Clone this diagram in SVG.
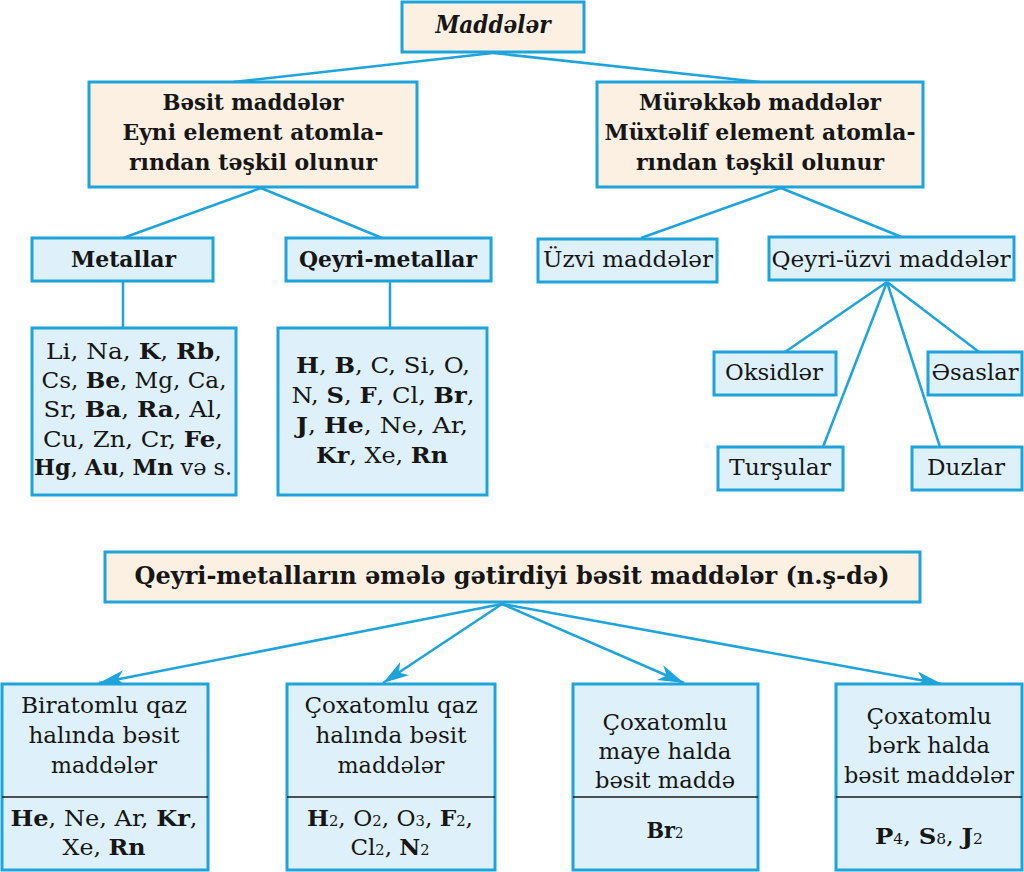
<svg xmlns="http://www.w3.org/2000/svg" width="1024" height="872" viewBox="0 0 1024 872">
<style>
.bx{fill:#def1fb;stroke:#1ea4db;stroke-width:3}
.bg{fill:#fcf0e2;stroke:#1ea4db;stroke-width:3}
.ln{fill:none;stroke:#1ea4db;stroke-width:2.5}
.dv{stroke:#1a1a1a;stroke-width:1.5}
text{font-family:"DejaVu Serif","Liberation Serif",serif;fill:#161616;text-anchor:middle}
.t{font-size:23px;font-weight:bold}
.r{font-size:23px}
.e{font-size:22px}
.b{font-weight:bold}
.s{font-size:14px}
</style>
<defs>
<marker id="ah" markerUnits="userSpaceOnUse" markerWidth="28" markerHeight="18" refX="26" refY="8" orient="auto" viewBox="0 0 28 18">
<path d="M0,0 L26,8 L0,16 L7,8 z" fill="#1ea4db"/>
</marker>
</defs>
<rect width="1024" height="872" fill="#ffffff"/>
<g id="connectors">
<line class="ln" x1="493" y1="53" x2="233" y2="82"/>
<line class="ln" x1="493" y1="53" x2="760" y2="82"/>
<line class="ln" x1="261" y1="188" x2="123" y2="238"/>
<line class="ln" x1="261" y1="188" x2="382" y2="238"/>
<line class="ln" x1="781" y1="188" x2="641" y2="238"/>
<line class="ln" x1="781" y1="188" x2="904" y2="238"/>
<line class="ln" x1="123" y1="282" x2="123" y2="328"/>
<line class="ln" x1="390" y1="282" x2="390" y2="328"/>
<line class="ln" x1="887" y1="282" x2="785" y2="352"/>
<line class="ln" x1="887" y1="282" x2="823" y2="447"/>
<line class="ln" x1="887" y1="282" x2="940" y2="447"/>
<line class="ln" x1="887" y1="282" x2="979" y2="352"/>
<line class="ln" x1="502" y1="604" x2="99" y2="683" marker-end="url(#ah)"/>
<line class="ln" x1="502" y1="604" x2="383" y2="683" marker-end="url(#ah)"/>
<line class="ln" x1="502" y1="604" x2="684" y2="683" marker-end="url(#ah)"/>
<line class="ln" x1="502" y1="604" x2="942" y2="684" marker-end="url(#ah)"/>
</g>
<g id="maddeler">
<rect class="bg" x="402" y="2" width="182" height="50"/>
<text x="493" y="33" style="font-size:24px;font-weight:bold;font-style:italic" textLength="115" lengthAdjust="spacingAndGlyphs">Maddələr</text>
</g>
<g id="besit">
<rect class="bg" x="89" y="82" width="328" height="105"/>
<text class="t" x="253" y="110" textLength="181" lengthAdjust="spacingAndGlyphs">Bəsit maddələr</text>
<text class="t" x="253" y="140" textLength="261" lengthAdjust="spacingAndGlyphs">Eyni element atomla-</text>
<text class="t" x="253" y="170" textLength="248" lengthAdjust="spacingAndGlyphs">rından təşkil olunur</text>
</g>
<g id="murekkeb">
<rect class="bg" x="597" y="82" width="326" height="105"/>
<text class="t" x="760" y="110" textLength="242" lengthAdjust="spacingAndGlyphs">Mürəkkəb maddələr</text>
<text class="t" x="760" y="140" textLength="311" lengthAdjust="spacingAndGlyphs">Müxtəlif element atomla-</text>
<text class="t" x="760" y="170" textLength="248" lengthAdjust="spacingAndGlyphs">rından təşkil olunur</text>
</g>
<g id="metallar">
<rect class="bx" x="32" y="238" width="181" height="43"/>
<text class="t" x="123.5" y="267" textLength="105" lengthAdjust="spacingAndGlyphs">Metallar</text>
</g>
<g id="qeyri-metallar">
<rect class="bx" x="286" y="238" width="205" height="43"/>
<text class="t" x="388" y="267" textLength="178" lengthAdjust="spacingAndGlyphs">Qeyri-metallar</text>
</g>
<g id="uzvi">
<rect class="bx" x="538" y="239" width="179" height="43"/>
<text class="r" x="628" y="267" textLength="170" lengthAdjust="spacingAndGlyphs">Üzvi maddələr</text>
</g>
<g id="qeyri-uzvi">
<rect class="bx" x="769" y="237" width="245" height="43"/>
<text class="r" x="891" y="267" textLength="239" lengthAdjust="spacingAndGlyphs">Qeyri-üzvi maddələr</text>
</g>
<g id="metal-list">
<rect class="bx" x="32" y="328" width="204" height="167"/>
<text class="e" x="134" y="359" textLength="176" lengthAdjust="spacingAndGlyphs">Li, Na, <tspan class="b">K</tspan>, <tspan class="b">Rb</tspan>,</text>
<text class="e" x="134" y="388" textLength="185" lengthAdjust="spacingAndGlyphs">Cs, <tspan class="b">Be</tspan>, Mg, Ca,</text>
<text class="e" x="133" y="417" textLength="179" lengthAdjust="spacingAndGlyphs">Sr, <tspan class="b">Ba</tspan>, <tspan class="b">Ra</tspan>, Al,</text>
<text class="e" x="133" y="447" textLength="180" lengthAdjust="spacingAndGlyphs">Cu, Zn, Cr, <tspan class="b">Fe</tspan>,</text>
<text class="e" x="133" y="475" textLength="198" lengthAdjust="spacingAndGlyphs"><tspan class="b">Hg</tspan>, <tspan class="b">Au</tspan>, <tspan class="b">Mn</tspan> və s.</text>
</g>
<g id="nonmetal-list">
<rect class="bx" x="278" y="328" width="209" height="167"/>
<text class="e" x="383" y="373" textLength="174" lengthAdjust="spacingAndGlyphs"><tspan class="b">H</tspan>, <tspan class="b">B</tspan>, C, Si, O,</text>
<text class="e" x="383" y="403" textLength="183" lengthAdjust="spacingAndGlyphs">N, <tspan class="b">S</tspan>, <tspan class="b">F</tspan>, Cl, <tspan class="b">Br</tspan>,</text>
<text class="e" x="382" y="433" textLength="172" lengthAdjust="spacingAndGlyphs"><tspan class="b">J</tspan>, <tspan class="b">He</tspan>, Ne, Ar,</text>
<text class="e" x="382" y="463" textLength="132" lengthAdjust="spacingAndGlyphs"><tspan class="b">Kr</tspan>, Xe, <tspan class="b">Rn</tspan></text>
</g>
<g id="oksidler">
<rect class="bx" x="714" y="352" width="122" height="43"/>
<text class="r" x="774" y="380" textLength="98" lengthAdjust="spacingAndGlyphs">Oksidlər</text>
</g>
<g id="esaslar">
<rect class="bx" x="928" y="352" width="94" height="43"/>
<text class="r" x="975" y="380" textLength="87" lengthAdjust="spacingAndGlyphs">Əsaslar</text>
</g>
<g id="tursular">
<rect class="bx" x="718" y="447" width="125" height="43"/>
<text class="r" x="780" y="475" textLength="102" lengthAdjust="spacingAndGlyphs">Turşular</text>
</g>
<g id="duzlar">
<rect class="bx" x="912" y="447" width="110" height="43"/>
<text class="r" x="966" y="475" textLength="78" lengthAdjust="spacingAndGlyphs">Duzlar</text>
</g>
<g id="title2">
<rect class="bg" x="105" y="552" width="815" height="50"/>
<text x="512" y="584" style="font-size:24px;font-weight:bold" textLength="755" lengthAdjust="spacingAndGlyphs">Qeyri-metalların əmələ gətirdiyi bəsit maddələr (n.ş-də)</text>
</g>
<g id="biratomlu">
<rect class="bx" x="2" y="684" width="206" height="186"/>
<line class="dv" x1="2" y1="797" x2="208" y2="797"/>
<text class="r" x="104" y="713" textLength="166" lengthAdjust="spacingAndGlyphs">Biratomlu qaz</text>
<text class="r" x="104" y="743" textLength="151" lengthAdjust="spacingAndGlyphs">halında bəsit</text>
<text class="r" x="104" y="773" textLength="106" lengthAdjust="spacingAndGlyphs">maddələr</text>
<text class="e" x="104" y="826" textLength="187" lengthAdjust="spacingAndGlyphs"><tspan class="b">He</tspan>, Ne, Ar, <tspan class="b">Kr</tspan>,</text>
<text class="e" x="104" y="855" textLength="83" lengthAdjust="spacingAndGlyphs">Xe, <tspan class="b">Rn</tspan></text>
</g>
<g id="coxatomlu-qaz">
<rect class="bx" x="287" y="684" width="208" height="186"/>
<line class="dv" x1="287" y1="797" x2="495" y2="797"/>
<text class="r" x="391" y="713" textLength="173" lengthAdjust="spacingAndGlyphs">Çoxatomlu qaz</text>
<text class="r" x="391" y="743" textLength="151" lengthAdjust="spacingAndGlyphs">halında bəsit</text>
<text class="r" x="391" y="773" textLength="107" lengthAdjust="spacingAndGlyphs">maddələr</text>
<text class="e" x="390" y="826" textLength="166" lengthAdjust="spacingAndGlyphs"><tspan class="b">H</tspan><tspan class="s">2</tspan>, O<tspan class="s">2</tspan>, O<tspan class="s">3</tspan>, <tspan class="b">F</tspan><tspan class="s">2</tspan>,</text>
<text class="e" x="390" y="855" textLength="79" lengthAdjust="spacingAndGlyphs">Cl<tspan class="s">2</tspan>, <tspan class="b">N</tspan><tspan class="s">2</tspan></text>
</g>
<g id="coxatomlu-maye">
<rect class="bx" x="573" y="684" width="185" height="186"/>
<line class="dv" x1="573" y1="797" x2="758" y2="797"/>
<text class="r" x="665" y="730" textLength="125" lengthAdjust="spacingAndGlyphs">Çoxatomlu</text>
<text class="r" x="665" y="759" textLength="133" lengthAdjust="spacingAndGlyphs">maye halda</text>
<text class="r" x="665" y="788" textLength="140" lengthAdjust="spacingAndGlyphs">bəsit maddə</text>
<text class="e" x="665" y="838" textLength="37" lengthAdjust="spacingAndGlyphs"><tspan class="b">Br</tspan><tspan class="s">2</tspan></text>
</g>
<g id="coxatomlu-berk">
<rect class="bx" x="836" y="684" width="186" height="186"/>
<line class="dv" x1="836" y1="797" x2="1022" y2="797"/>
<text class="r" x="929" y="724" textLength="125" lengthAdjust="spacingAndGlyphs">Çoxatomlu</text>
<text class="r" x="929" y="753" textLength="122" lengthAdjust="spacingAndGlyphs">bərk halda</text>
<text class="r" x="929" y="783" textLength="170" lengthAdjust="spacingAndGlyphs">bəsit maddələr</text>
<text class="e" x="929" y="844" textLength="108" lengthAdjust="spacingAndGlyphs"><tspan class="b">P</tspan><tspan class="s">4</tspan>, <tspan class="b">S</tspan><tspan class="s">8</tspan>, <tspan class="b">J</tspan><tspan class="s">2</tspan></text>
</g>
</svg>
